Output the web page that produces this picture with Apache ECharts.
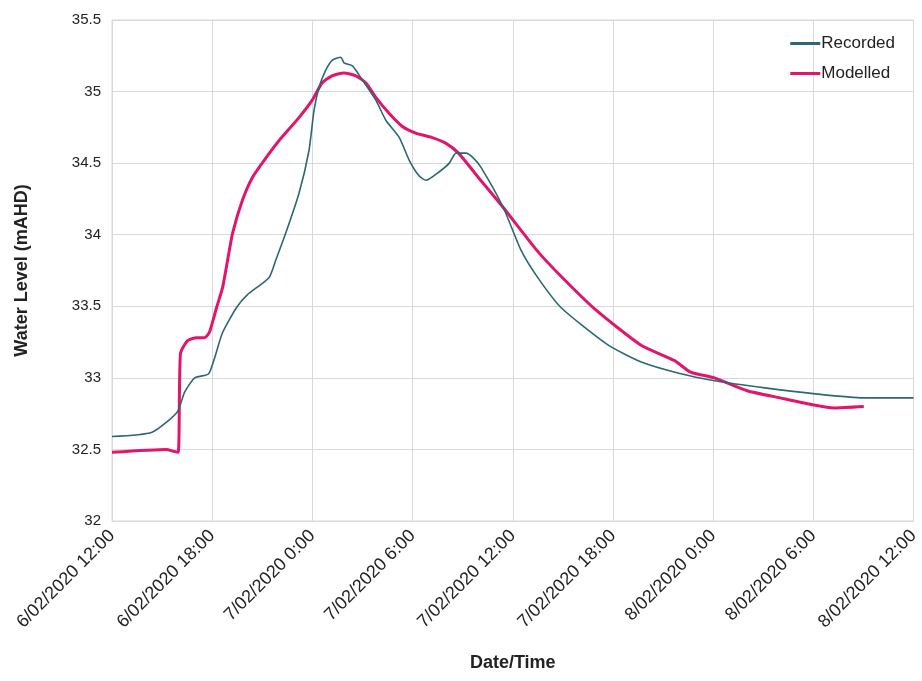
<!DOCTYPE html>
<html><head><meta charset="utf-8">
<script src="https://cdn.jsdelivr.net/npm/echarts@6/dist/echarts.min.js"></script>
<style>html,body{margin:0;padding:0;background:#fff}#c{width:922px;height:681px}</style>
</head><body><div id="c"></div>
<script>
// hours since 6/02/2020 12:00
const tickLabels = ['6/02/2020 12:00','6/02/2020 18:00','7/02/2020 0:00','7/02/2020 6:00','7/02/2020 12:00','7/02/2020 18:00','8/02/2020 0:00','8/02/2020 6:00','8/02/2020 12:00'];
const recordedHours = [0,2.4,3.9,4.35,4.95,5.8,6.6,7.45,8.1,9.4,9.8,10.4,11.2,11.8,12.1,12.4,12.8,13.2,13.7,13.9,14.4,15.0,15.8,16.4,17.2,17.8,18.4,18.8,19.6,20.2,20.6,21.2,21.6,22.1,23.43,24.5,25.5,26.9,29.7,31.7,34.0,36.1,39.1,42.0,45.0,48];
const recordedLevel = [32.59,32.62,32.76,32.90,33.00,33.03,33.31,33.49,33.58,33.70,33.82,34.01,34.29,34.59,34.87,35.03,35.15,35.22,35.24,35.20,35.18,35.08,34.94,34.80,34.68,34.52,34.41,34.38,34.44,34.50,34.57,34.57,34.54,34.47,34.19,33.89,33.70,33.49,33.23,33.11,33.03,32.98,32.93,32.89,32.86,32.86];
const modelledHours = [0,3.28,3.58,3.96,4.1,4.53,5.07,5.55,5.84,6.26,6.62,6.92,7.22,7.81,8.41,9.24,10.02,11.21,11.99,12.58,13.18,13.89,14.61,15.21,15.80,16.58,17.35,18.19,19.14,19.98,20.75,21.94,23.43,25.52,26.89,28.92,31.66,33.69,34.64,36.07,38.04,40.01,42.04,43.23,45.02];
const modelledLevel = [32.48,32.50,32.49,32.48,33.17,33.26,33.28,33.28,33.32,33.49,33.63,33.82,34.01,34.24,34.40,34.54,34.66,34.82,34.94,35.06,35.11,35.13,35.11,35.06,34.96,34.85,34.76,34.71,34.68,34.64,34.57,34.40,34.19,33.88,33.71,33.48,33.23,33.12,33.04,33.00,32.91,32.86,32.81,32.79,32.80];

const font = 'Liberation Sans, Arial, sans-serif';
const narrow = '"Liberation Sans Narrow", "Arial Narrow", Liberation Sans, Arial, sans-serif';
const chart = echarts.init(document.getElementById('c'));
chart.setOption({
  animation: false,
  grid: {left: 112, right: 5, top: 20, bottom: 160, show: true, borderColor: '#d9d9d9', borderWidth: 1},
  legend: {
    orient: 'vertical', right: 22, top: 30, itemGap: 13, itemWidth: 30, itemHeight: 3, icon: 'rect',
    textStyle: {fontFamily: font, fontSize: 17, color: '#222', padding: [0,0,0,-4]},
    data: ['Recorded','Modelled']
  },
  xAxis: {
    type: 'value', min: 0, max: 48, interval: 6,
    name: 'Date/Time', nameLocation: 'middle', nameGap: 133,
    nameTextStyle: {fontFamily: font, fontSize: 18, fontWeight: 'bold', color: '#222'},
    axisLine: {show: true, lineStyle: {color: '#d9d9d9'}},
    axisTick: {show: false},
    axisLabel: {rotate: 45, fontFamily: narrow, fontSize: 18, color: '#222', margin: 12,
      formatter: v => tickLabels[Math.round(v / 6)]},
    splitLine: {show: true, lineStyle: {color: '#d9d9d9'}}
  },
  yAxis: {
    type: 'value', min: 32, max: 35.5, interval: 0.5,
    name: 'Water Level (mAHD)', nameLocation: 'middle', nameGap: 81,
    nameTextStyle: {fontFamily: font, fontSize: 18, fontWeight: 'bold', color: '#222'},
    axisLine: {show: true, lineStyle: {color: '#d9d9d9'}},
    axisTick: {show: false},
    axisLabel: {fontFamily: font, fontSize: 15, color: '#222', margin: 11},
    splitLine: {show: true, lineStyle: {color: '#d9d9d9'}}
  },
  series: [
    {name: 'Recorded', type: 'line', showSymbol: false, smooth: 0.2,
      data: recordedHours.map((h, i) => [h, recordedLevel[i]]),
      lineStyle: {color: '#2b6874', width: 1.6}, itemStyle: {color: '#2b6874'}, z: 3},
    {name: 'Modelled', type: 'line', showSymbol: false, smooth: 0.2,
      data: modelledHours.map((h, i) => [h, modelledLevel[i]]),
      lineStyle: {color: '#e2156c', width: 3}, itemStyle: {color: '#e2156c'}, z: 2}
  ]
});
</script></body></html>
